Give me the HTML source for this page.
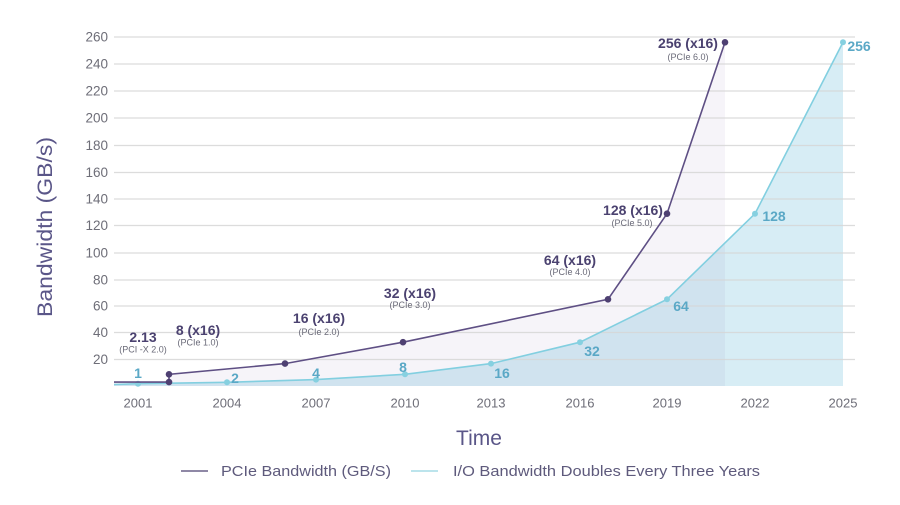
<!DOCTYPE html>
<html><head><meta charset="utf-8"><style>
html,body{margin:0;padding:0;background:#fff;}
svg{display:block;font-family:"Liberation Sans",sans-serif;}
</style></head><body>
<svg width="900" height="505" viewBox="0 0 900 505" xmlns="http://www.w3.org/2000/svg">
<rect width="900" height="505" fill="#fff"/>
<!-- fills -->
<polygon points="114,385 114,384.5 138,383.7 227,382.3 316,379.6 405,374.3 491,363.6 580,342.2 667,299.3 755,213.7 843,42.3 843,386 114,386" fill="#d7edf5"/>
<polygon points="114,382.1 169,382.1 169,374.3 285,363.6 403,342.2 608,299.3 667,213.7 725,42.3 725,386 114,386" fill="#7a64a8" fill-opacity="0.07"/>
<!-- grid -->
<g stroke="#d6d6d6" stroke-width="1.3" stroke-opacity="0.85">
<line x1="114" x2="855" y1="37" y2="37"/>
<line x1="114" x2="855" y1="64" y2="64"/>
<line x1="114" x2="855" y1="91" y2="91"/>
<line x1="114" x2="855" y1="118" y2="118"/>
<line x1="114" x2="855" y1="145.5" y2="145.5"/>
<line x1="114" x2="855" y1="172.5" y2="172.5"/>
<line x1="114" x2="855" y1="199" y2="199"/>
<line x1="114" x2="855" y1="225.5" y2="225.5"/>
<line x1="114" x2="855" y1="253" y2="253"/>
<line x1="114" x2="855" y1="280" y2="280"/>
<line x1="114" x2="855" y1="306" y2="306"/>
<line x1="114" x2="855" y1="332.5" y2="332.5"/>
<line x1="114" x2="855" y1="359.5" y2="359.5"/>
</g>
<!-- y tick labels -->
<g font-size="13.5" fill="#6e6e78" text-anchor="end">
<text x="108" y="41.5">260</text>
<text x="108" y="68.5">240</text>
<text x="108" y="95.5">220</text>
<text x="108" y="122.5">200</text>
<text x="108" y="150">180</text>
<text x="108" y="177">160</text>
<text x="108" y="203.5">140</text>
<text x="108" y="230">120</text>
<text x="108" y="257.5">100</text>
<text x="108" y="284.5">80</text>
<text x="108" y="310.5">60</text>
<text x="108" y="337">40</text>
<text x="108" y="364">20</text>
</g>
<!-- x tick labels -->
<g font-size="13" fill="#6e6e78" text-anchor="middle">
<text x="138" y="407.5">2001</text>
<text x="227" y="407.5">2004</text>
<text x="316" y="407.5">2007</text>
<text x="405" y="407.5">2010</text>
<text x="491" y="407.5">2013</text>
<text x="580" y="407.5">2016</text>
<text x="667" y="407.5">2019</text>
<text x="755" y="407.5">2022</text>
<text x="843" y="407.5">2025</text>
</g>
<!-- blue series -->
<polyline points="114,384.5 138,383.7 227,382.3 316,379.6 405,374.3 491,363.6 580,342.2 667,299.3 755,213.7 843,42.3" fill="none" stroke="#82cfe0" stroke-width="1.6"/>
<g fill="#86d0e0">
<circle cx="138" cy="383.7" r="3"/>
<circle cx="227" cy="382.3" r="3"/>
<circle cx="316" cy="379.6" r="3"/>
<circle cx="405" cy="374.3" r="3"/>
<circle cx="491" cy="363.6" r="3"/>
<circle cx="580" cy="342.2" r="3"/>
<circle cx="667" cy="299.3" r="3"/>
<circle cx="755" cy="213.7" r="3"/>
<circle cx="843" cy="42.3" r="3"/>
</g>
<!-- purple series -->
<polyline points="114,382.1 169,382.1 169,374.3 285,363.6 403,342.2 608,299.3 667,213.7 725,42.3" fill="none" stroke="#5e4f84" stroke-width="1.6"/>
<g fill="#4e4072">
<circle cx="169" cy="382.1" r="3.3"/>
<circle cx="169" cy="374.3" r="3.3"/>
<circle cx="285" cy="363.6" r="3.3"/>
<circle cx="403" cy="342.2" r="3.3"/>
<circle cx="608" cy="299.3" r="3.3"/>
<circle cx="667" cy="213.7" r="3.3"/>
<circle cx="725" cy="42.3" r="3.3"/>
</g>
<!-- purple labels -->
<g font-size="14" font-weight="bold" fill="#4b4270" text-anchor="middle">
<text x="143" y="342">2.13</text>
<text x="198" y="335">8 (x16)</text>
<text x="319" y="323">16 (x16)</text>
<text x="410" y="298">32 (x16)</text>
<text x="570" y="265">64 (x16)</text>
<text x="633" y="215">128 (x16)</text>
<text x="688" y="48">256 (x16)</text>
</g>
<g font-size="9" fill="#6a6a78" text-anchor="middle">
<text x="143" y="352.5">(PCI -X 2.0)</text>
<text x="198" y="345.5">(PCIe 1.0)</text>
<text x="319" y="335">(PCIe 2.0)</text>
<text x="410" y="308">(PCIe 3.0)</text>
<text x="570" y="275">(PCIe 4.0)</text>
<text x="632" y="226">(PCIe 5.0)</text>
<text x="688" y="60">(PCIe 6.0)</text>
</g>
<!-- blue labels -->
<g font-size="14" font-weight="bold" fill="#5aa8c6" text-anchor="middle">
<text x="138" y="378">1</text>
<text x="235" y="383">2</text>
<text x="316" y="378">4</text>
<text x="403" y="372">8</text>
<text x="502" y="378">16</text>
<text x="592" y="356">32</text>
<text x="681" y="311">64</text>
<text x="774" y="221">128</text>
<text x="859" y="51">256</text>
</g>
<!-- axis titles -->
<text transform="translate(52,227) rotate(-90)" text-anchor="middle" font-size="21" fill="#5a5688" textLength="180" lengthAdjust="spacingAndGlyphs">Bandwidth (GB/s)</text>
<text x="479" y="445" text-anchor="middle" font-size="21" fill="#5a5688">Time</text>
<!-- legend -->
<line x1="181" x2="208" y1="471" y2="471" stroke="#6a6088" stroke-width="1.5"/>
<text x="221" y="476" font-size="15" fill="#5e5a7c" textLength="170" lengthAdjust="spacingAndGlyphs">PCIe Bandwidth (GB/S)</text>
<line x1="411" x2="438" y1="471" y2="471" stroke="#a6dbe6" stroke-width="1.5"/>
<text x="453" y="476" font-size="15" fill="#5e5a7c" textLength="307" lengthAdjust="spacingAndGlyphs">I/O Bandwidth Doubles Every Three Years</text>
</svg>
</body></html>
